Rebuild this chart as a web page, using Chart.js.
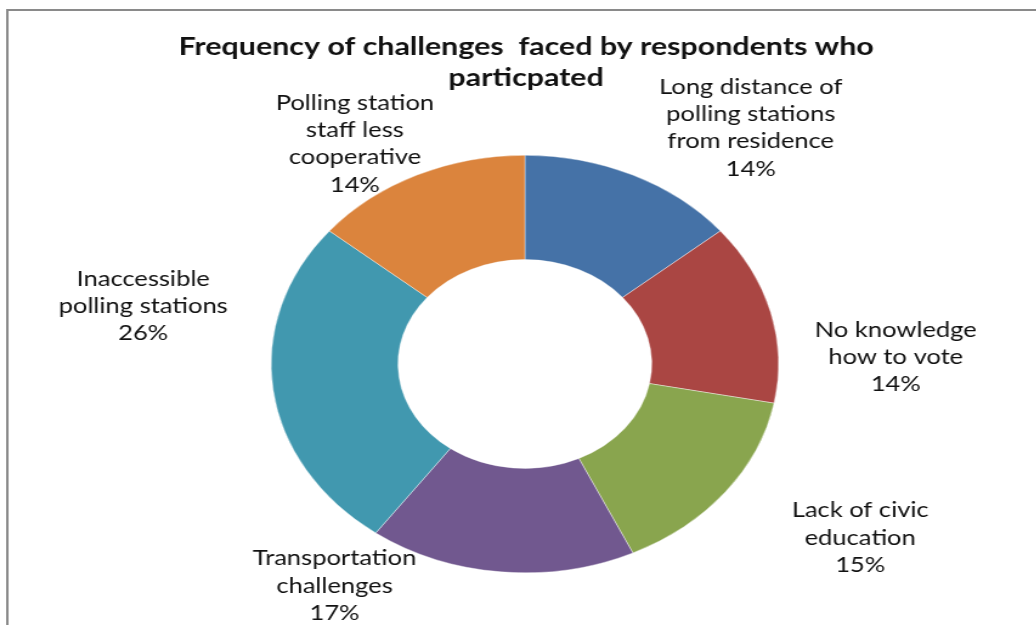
<!DOCTYPE html>
<html>
<head>
<meta charset="utf-8">
<script src="https://cdn.jsdelivr.net/npm/chart.js@4/dist/chart.umd.min.js"></script>
<style>
  html, body { margin: 0; padding: 0; background: #fff; overflow: hidden; }
  #wrap { width: 853px; height: 625px; transform: scaleX(1.215); transform-origin: 0 0; }
  canvas { display: block; }
</style>
</head>
<body>
<div id="wrap"><canvas id="c" width="853" height="625"></canvas></div>
<script>
// Challenges reported, clockwise from 12 o'clock
const categories = [
  ['Long distance of', 'polling stations', 'from residence'],
  ['No knowledge', 'how to vote'],
  ['Lack of civic', 'education'],
  ['Transportation', 'challenges'],
  ['Inaccessible', 'polling stations'],
  ['Polling station', 'staff less', 'cooperative']
];
const shares = [14, 14, 15, 17, 26, 14];
const sliceColors = ['#4572A7', '#AA4643', '#89A54E', '#71588F', '#4198AF', '#DB843D'];
const titleLines = ['Frequency of challenges  faced by respondents who', 'particpated'];

// Label block offsets from each slice's outer mid-point
const labelShift = [[97, -47], [103, 45], [111, 46], [-137, 14], [-107, -84], [-51, -31]];

const LABEL_FONT = '21px Lato, "Open Sans", sans-serif';
const TITLE_FONT = 'bold 25px Lato, "Open Sans", sans-serif';
const LINE_H = 27.3;

const framePlugin = {
  id: 'frame',
  beforeDraw(chart) {
    const ctx = chart.ctx;
    ctx.save();
    ctx.strokeStyle = '#8a8a8a';
    ctx.lineWidth = 2;
    ctx.beginPath();
    ctx.moveTo(6, chart.height);
    ctx.lineTo(6, 10);
    ctx.lineTo(chart.width, 10);
    ctx.stroke();
    ctx.restore();
  }
};

const textPlugin = {
  id: 'texts',
  afterDraw(chart) {
    const ctx = chart.ctx;
    const meta = chart.getDatasetMeta(0);
    ctx.save();
    ctx.fillStyle = '#111';
    ctx.textAlign = 'center';
    ctx.textBaseline = 'middle';

    // title
    ctx.font = TITLE_FONT;
    titleLines.forEach((t, i) => ctx.fillText(t, 433, 47 + i * 31));

    // slice labels: category lines then the percentage
    ctx.font = LABEL_FONT;
    meta.data.forEach((arc, i) => {
      const p = arc.getProps(['x', 'y', 'startAngle', 'endAngle', 'outerRadius'], true);
      const mid = (p.startAngle + p.endAngle) / 2;
      const ax = p.x + Math.cos(mid) * p.outerRadius + labelShift[i][0];
      const ay = p.y + Math.sin(mid) * p.outerRadius + labelShift[i][1];
      const lines = categories[i].concat([shares[i] + '%']);
      const top = ay - (lines.length - 1) * LINE_H / 2;
      lines.forEach((t, k) => ctx.fillText(t, ax, top + k * LINE_H));
    });
    ctx.restore();
  }
};

new Chart(document.getElementById('c'), {
  type: 'doughnut',
  data: {
    labels: categories.map(c => c.join(' ')),
    datasets: [{
      data: shares,
      backgroundColor: sliceColors,
      borderColor: '#ffffff',
      borderWidth: 0.4
    }]
  },
  options: {
    responsive: false,
    animation: false,
    cutout: '50%',
    layout: { padding: { top: 155, bottom: 52, left: 223, right: 212 } },
    plugins: {
      legend: { display: false },
      tooltip: { enabled: false },
      title: { display: false }
    }
  },
  plugins: [framePlugin, textPlugin]
});
</script>
</body>
</html>
